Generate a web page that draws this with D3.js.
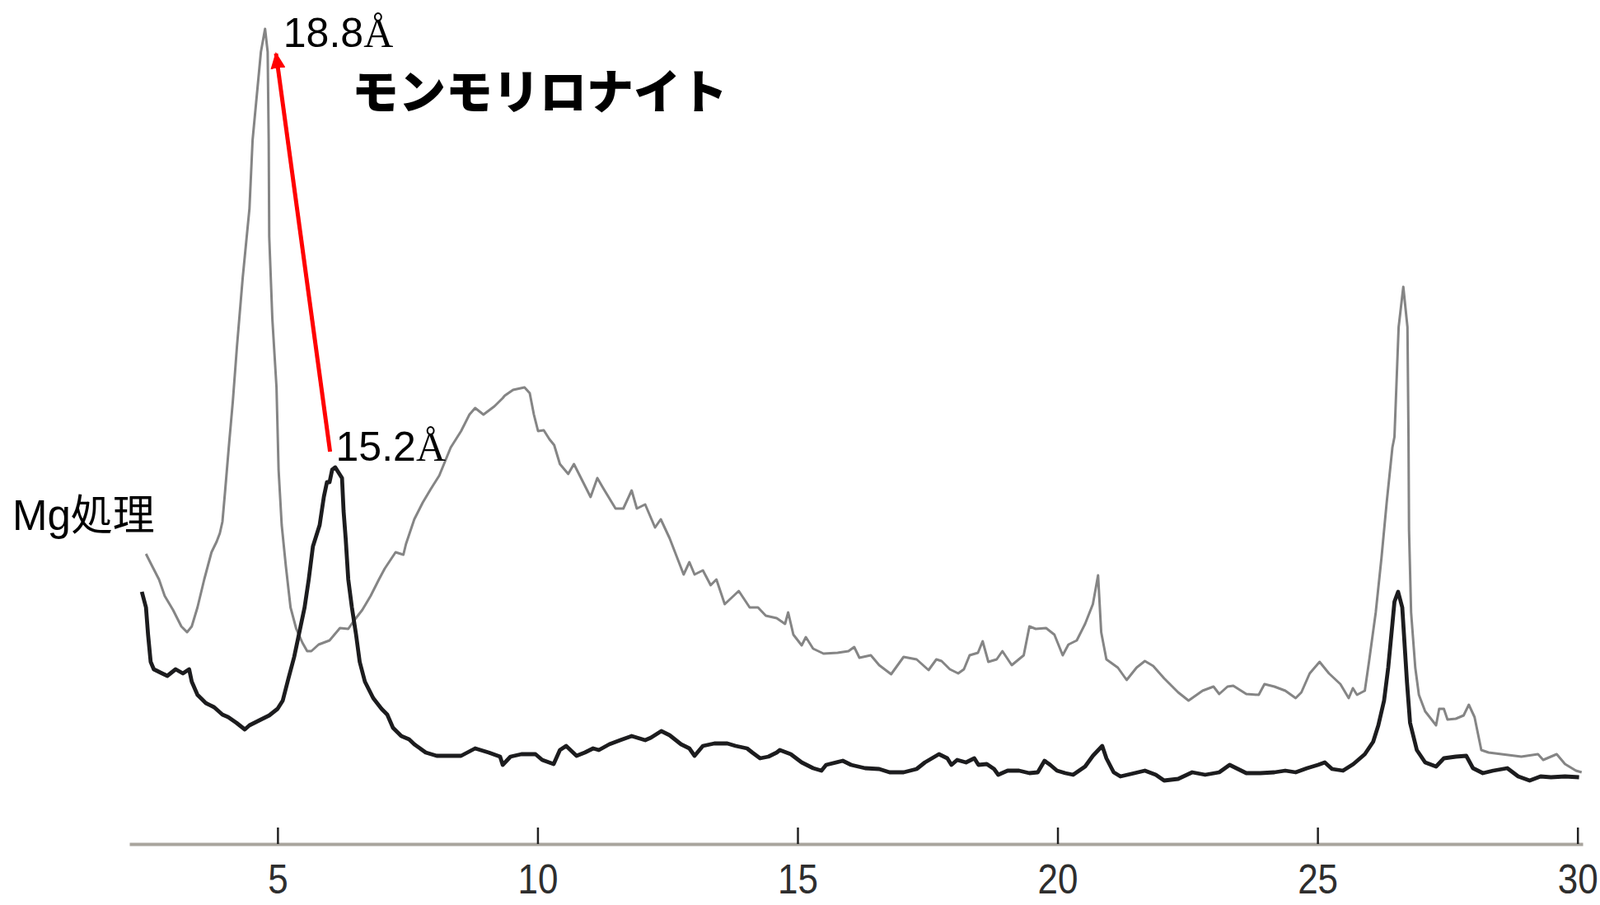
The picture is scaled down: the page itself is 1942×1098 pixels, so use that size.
<!DOCTYPE html>
<html>
<head>
<meta charset="utf-8">
<script src="https://cdn.jsdelivr.net/npm/d3@7"></script>
<style>
  html, body { margin: 0; padding: 0; background: #ffffff; }
  svg { display: block; }
</style>
</head>
<body>
<svg id="chart" width="1942" height="1098"></svg>
<script>
// ---- data (2θ in degrees, relative intensity) ----
const tickValues = [5, 10, 15, 20, 25, 30];

// Mg処理 (black trace)
const mgTheta = [2.39,2.47,2.51,2.56,2.62,2.78,2.88,3.04,3.18,3.30,3.35,3.46,3.62,3.78,3.94,4.05,4.21,4.37,4.46,4.68,4.84,5.00,5.10,5.21,5.32,5.41,5.52,5.60,5.68,5.81,5.89,5.95,6.00,6.05,6.11,6.24,6.27,6.31,6.36,6.43,6.51,6.58,6.68,6.84,7.00,7.11,7.22,7.38,7.53,7.63,7.85,8.06,8.26,8.53,8.80,9.06,9.28,9.33,9.48,9.69,9.96,10.09,10.31,10.43,10.55,10.75,10.91,11.07,11.18,11.38,11.59,11.81,12.07,12.18,12.38,12.54,12.76,12.92,13.02,13.18,13.40,13.65,13.81,14.03,14.13,14.28,14.44,14.60,14.66,14.87,15.08,15.30,15.46,15.55,15.87,16.03,16.30,16.57,16.77,17.04,17.29,17.45,17.72,17.88,17.96,18.07,18.24,18.40,18.48,18.64,18.78,18.86,19.04,19.26,19.46,19.62,19.75,19.86,19.99,20.15,20.30,20.53,20.68,20.86,20.94,21.08,21.21,21.48,21.68,21.89,22.05,22.32,22.59,22.84,23.11,23.31,23.63,23.90,24.17,24.38,24.58,24.80,25.01,25.14,25.28,25.49,25.69,25.91,26.07,26.17,26.28,26.36,26.44,26.48,26.55,26.63,26.67,26.72,26.78,26.91,27.07,27.28,27.43,27.66,27.86,27.99,28.18,28.38,28.65,28.86,29.08,29.29,29.49,29.76,30.03];
const mgInt = [30.6,28.7,25.4,22.1,21.2,20.7,20.4,21.2,20.7,21.2,19.7,18.1,17.1,16.6,15.7,15.4,14.7,13.9,14.4,15.1,15.6,16.4,17.4,20.1,22.7,25.4,28.7,32.1,36.1,38.7,42.1,43.9,43.9,45.4,45.7,44.4,40.4,37.1,32.1,28.7,25.4,22.1,19.7,17.7,16.4,15.7,14.1,13.1,12.7,12.1,11.1,10.7,10.7,10.7,11.6,11.1,10.6,9.6,10.6,10.9,10.9,10.2,9.7,11.4,11.9,10.7,11.1,11.6,11.4,12.1,12.6,13.1,12.6,12.9,13.7,13.2,12.1,11.6,10.7,11.9,12.2,12.2,11.9,11.6,11.1,10.4,10.6,11.1,11.4,10.9,9.9,9.2,8.9,9.6,10.1,9.6,9.2,9.1,8.7,8.7,9.1,9.9,10.9,10.4,9.6,10.2,9.9,10.4,9.6,9.7,9.1,8.4,8.9,8.9,8.6,8.7,10.1,9.6,8.9,8.6,8.4,9.4,10.7,11.9,10.4,8.7,8.2,8.6,8.9,8.4,7.7,7.9,8.7,8.4,8.7,9.6,8.6,8.6,8.7,8.9,8.7,9.2,9.6,9.9,9.1,8.9,9.7,10.9,12.4,14.4,17.4,21.4,26.7,29.4,30.6,28.7,24.7,19.7,14.7,11.4,9.9,9.4,10.4,10.6,10.7,9.2,8.6,8.9,9.2,8.2,7.7,8.2,8.1,8.2,8.1];

// upper (grey) trace
const egTheta = [2.47,2.59,2.72,2.83,2.99,3.15,3.26,3.35,3.46,3.59,3.73,3.83,3.89,3.94,3.99,4.07,4.14,4.22,4.33,4.46,4.52,4.68,4.76,4.81,4.83,4.84,4.90,4.98,5.02,5.08,5.16,5.25,5.36,5.48,5.57,5.65,5.79,6.00,6.20,6.36,6.47,6.63,6.79,6.95,7.06,7.27,7.42,7.47,7.63,7.79,7.95,8.11,8.22,8.33,8.53,8.69,8.80,8.96,9.17,9.33,9.37,9.53,9.75,9.85,9.93,10.01,10.12,10.23,10.32,10.43,10.59,10.70,10.86,11.02,11.15,11.27,11.50,11.65,11.81,11.91,12.07,12.26,12.37,12.54,12.81,12.92,13.02,13.18,13.33,13.44,13.60,13.87,14.08,14.24,14.39,14.60,14.76,14.82,14.92,15.08,15.16,15.30,15.50,15.77,15.98,16.09,16.19,16.41,16.57,16.80,17.04,17.29,17.52,17.67,17.77,17.93,18.09,18.20,18.31,18.47,18.56,18.67,18.83,18.94,19.12,19.35,19.46,19.58,19.78,19.94,20.10,20.21,20.37,20.53,20.68,20.78,20.84,20.94,21.16,21.33,21.52,21.68,21.84,22.05,22.32,22.52,22.79,23.00,23.11,23.27,23.38,23.63,23.87,23.98,24.17,24.38,24.58,24.69,24.85,25.04,25.22,25.44,25.60,25.68,25.76,25.91,25.99,26.12,26.23,26.33,26.44,26.48,26.56,26.65,26.73,26.75,26.76,26.80,26.88,26.95,27.07,27.28,27.34,27.43,27.50,27.66,27.81,27.91,28.02,28.15,28.29,28.54,28.92,29.24,29.34,29.60,29.76,29.97,30.08];
const egInt = [35.2,33.7,32.1,30.1,28.4,26.4,25.7,26.4,28.7,32.1,35.4,36.7,37.7,39.1,42.7,48.7,53.7,60.4,68.7,77.1,85.4,96.1,98.9,96.1,85.4,73.7,63.7,55.4,45.4,38.7,33.7,28.7,26.1,24.4,23.4,23.4,24.2,24.7,26.2,26.1,27.1,28.4,30.1,32.1,33.4,35.4,35.1,36.4,39.4,41.4,43.1,44.7,46.4,48.1,50.1,52.1,52.9,52.1,53.1,54.1,54.4,55.1,55.4,54.7,52.1,50.1,50.2,49.1,48.4,46.1,44.9,46.1,44.1,42.1,44.4,43.1,40.7,40.7,42.9,40.7,41.2,38.4,39.4,37.1,32.7,34.2,32.7,33.2,31.4,32.1,29.1,30.7,28.7,28.7,27.7,27.4,26.7,28.1,25.4,24.1,25.1,23.7,23.1,23.2,23.4,23.9,22.6,22.9,21.7,20.6,22.7,22.4,21.1,22.4,22.2,21.2,20.7,21.2,22.9,23.2,24.6,22.1,22.4,23.4,21.7,22.9,26.4,26.1,26.2,25.4,22.9,24.2,24.7,26.7,29.1,32.6,25.7,22.4,21.4,19.9,21.4,22.2,21.6,20.1,18.4,17.4,18.6,19.1,18.2,19.1,19.2,18.2,18.1,19.4,19.1,18.6,17.7,18.4,20.7,22.1,20.7,19.4,17.7,18.9,18.1,18.6,22.1,28.1,34.7,41.4,48.1,49.4,62.7,67.6,62.7,49.4,38.1,28.1,21.4,18.1,16.1,14.4,16.4,16.4,15.1,15.2,15.6,16.9,15.4,11.4,11.1,10.9,10.6,10.9,10.2,10.9,9.7,8.9,8.7];

// annotations: [2θ, intensity]
const arrowFrom = [6.01, 47.6];
const arrowTo = [4.97, 95.9];
const peakLabels = [
  {text: "18.8", theta: 5.11, inten: 96.7},
  {text: "15.2", theta: 6.12, inten: 46.5}
];
const titleText = "モンモリロナイト";
const seriesLabel = "Mg処理";

// ---- drawing ----
const svg = d3.select("#chart");
const x = d3.scaleLinear().domain([2.15, 30.1]).range([157, 1921]);
const y = d3.scaleLinear().domain([0, 100]).range([1024, 24]);

const defs = svg.append("defs");
defs.append("marker")
  .attr("id", "head")
  .attr("markerUnits", "userSpaceOnUse")
  .attr("viewBox", "0 0 20 18")
  .attr("refX", 18).attr("refY", 9)
  .attr("markerWidth", 20).attr("markerHeight", 18)
  .attr("orient", "auto")
  .append("path").attr("d", "M0,0 L20,9 L0,18 Z").attr("fill", "#ff0000");

// axis
const axis = d3.axisBottom(x)
  .tickValues(tickValues)
  .tickSizeInner(-20)
  .tickSizeOuter(0)
  .tickPadding(25)
  .tickFormat(d3.format("d"));
const gAxis = svg.append("g").attr("transform", "translate(0,1024)").call(axis);
gAxis.select(".domain").attr("stroke", "#a8a49d").attr("stroke-width", 4);
gAxis.selectAll(".tick line").attr("stroke", "#222").attr("stroke-width", 2.5);
gAxis.selectAll(".tick text")
  .attr("fill", "#2e2e2e")
  .attr("font-family", "'Liberation Sans', Arial, sans-serif")
  .attr("font-size", 50)
  .attr("transform", "scale(0.88,1)");

const line = d3.line().x(d => x(d[0])).y(d => y(d[1])).curve(d3.curveLinear);
const egData = egTheta.map((t, i) => [t, egInt[i]]);
const mgData = mgTheta.map((t, i) => [t, mgInt[i]]);

svg.append("path").datum(egData)
  .attr("d", line)
  .attr("fill", "none")
  .attr("stroke", "#858585")
  .attr("stroke-width", 3)
  .attr("stroke-linejoin", "round");

svg.append("path").datum(mgData)
  .attr("d", line)
  .attr("fill", "none")
  .attr("stroke", "#1c1c1e")
  .attr("stroke-width", 4.8)
  .attr("stroke-linejoin", "round");

// red arrow
svg.append("line")
  .attr("x1", x(arrowFrom[0])).attr("y1", y(arrowFrom[1]))
  .attr("x2", x(arrowTo[0])).attr("y2", y(arrowTo[1]))
  .attr("stroke", "#ff0000").attr("stroke-width", 5)
  .attr("marker-end", "url(#head)");

// peak labels
peakLabels.forEach(p => {
  const t = svg.append("text")
    .attr("x", x(p.theta)).attr("y", y(p.inten))
    .attr("font-family", "'Liberation Sans', Arial, sans-serif")
    .attr("font-size", 50)
    .attr("fill", "#000");
  t.append("tspan").text(p.text);
  t.append("tspan").attr("font-family", "'Liberation Serif', 'Times New Roman', serif").text("Å");
});

// title
svg.append("text")
  .attr("x", 427).attr("y", 132)
  .attr("font-family", "'Noto Sans CJK JP', sans-serif")
  .attr("font-weight", 900)
  .attr("font-size", 57)
  .attr("fill", "#000")
  .text(titleText);

// series label
svg.append("text")
  .attr("x", 15).attr("y", 643)
  .attr("font-family", "'Liberation Sans', Arial, 'Noto Sans CJK JP', sans-serif")
  .attr("font-size", 51)
  .attr("fill", "#000")
  .text(seriesLabel);
</script>
</body>
</html>
